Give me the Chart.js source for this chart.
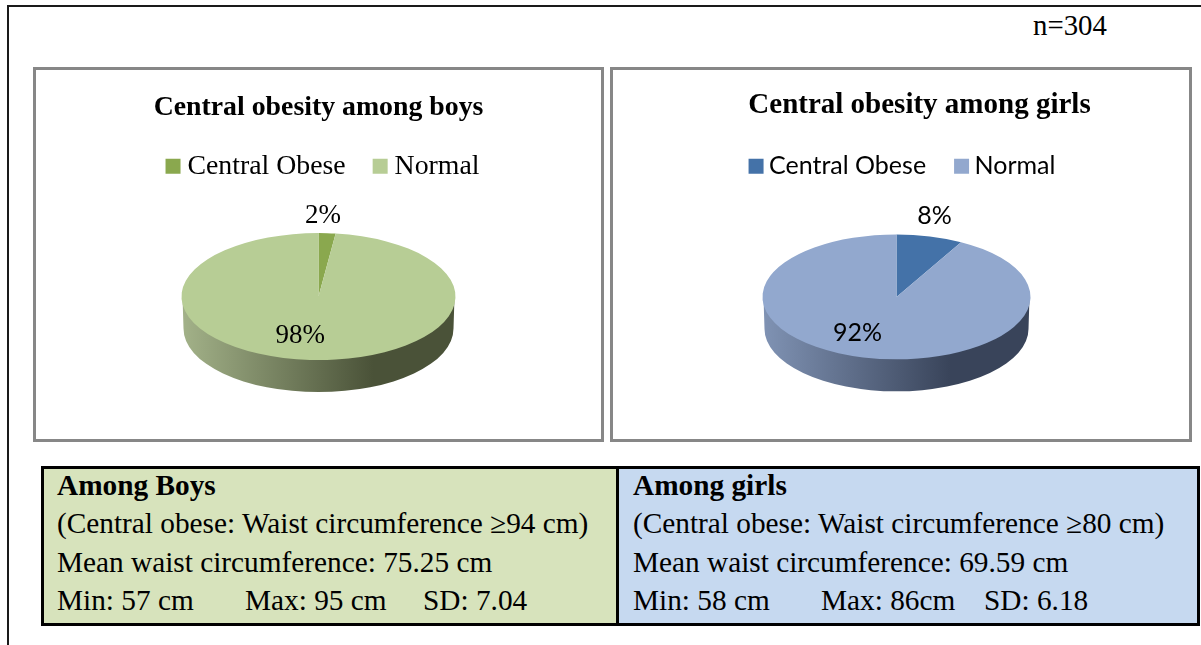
<!DOCTYPE html>
<html>
<head>
<meta charset="utf-8">
<title>Central obesity</title>
<script src="https://cdn.jsdelivr.net/npm/chart.js@4"></script>
<style>
  html, body { margin: 0; padding: 0; background: #fff; overflow: hidden; }
  body { width: 1201px; height: 645px; position: relative; font-family: "Liberation Serif", serif; color: #000; }
  .frameTop { position: absolute; left: 7px; top: 5px; width: 1194px; height: 2px; background: #1a1a1a; }
  .frameLeft { position: absolute; left: 7px; top: 5px; width: 2px; height: 640px; background: #1a1a1a; }
  .nText { position: absolute; left: 1033px; top: 9px; font-size: 28.8px; line-height: 32px; }
  .box { position: absolute; top: 67px; height: 369px; border: 3px solid #878787; background: #fff; }
  .box canvas { position: absolute; left: -3px; top: -3px; }
  #boxBoys { left: 33px; width: 565px; }
  #boxGirls { left: 610px; width: 576px; }
  .cell { position: absolute; top: 466px; height: 154px; border: 3px solid #000; font-size: 29.3px; line-height: 38.4px; white-space: nowrap; }
  #cellBoys { left: 41px; width: 574px; background: #d7e3bc; border-right: 0; }
  #cellGirls { left: 616px; width: 578px; background: #c6d9f0; }
  .line { position: absolute; }
  .head { font-weight: bold; }
</style>
</head>
<body>
<div class="frameTop"></div>
<div class="frameLeft"></div>
<div class="nText">n=304</div>

<div class="box" id="boxBoys"><canvas id="pieBoys" width="571" height="375"></canvas></div>
<div class="box" id="boxGirls"><canvas id="pieGirls" width="582" height="375"></canvas></div>

<div class="cell" id="cellBoys">
  <div class="line head" style="left:13px;top:-3px">Among Boys</div>
  <div class="line" style="left:13px;top:35px">(Central obese: Waist circumference ≥94 cm)</div>
  <div class="line" style="left:13px;top:74px">Mean waist circumference: 75.25 cm</div>
  <div class="line" style="left:13px;top:112px">Min: 57 cm</div>
  <div class="line" style="left:201px;top:112px">Max: 95 cm</div>
  <div class="line" style="left:379px;top:112px">SD: 7.04</div>
</div>
<div class="cell" id="cellGirls">
  <div class="line head" style="left:14px;top:-3px">Among girls</div>
  <div class="line" style="left:14px;top:35px">(Central obese: Waist circumference ≥80 cm)</div>
  <div class="line" style="left:14px;top:74px">Mean waist circumference: 69.59 cm</div>
  <div class="line" style="left:14px;top:112px">Min: 58 cm</div>
  <div class="line" style="left:202px;top:112px">Max: 86cm</div>
  <div class="line" style="left:365px;top:112px">SD: 6.18</div>
</div>

<script>
const categories = ["Central Obese", "Normal"];
const boysValues = [2, 98];
const girlsValues = [8, 92];
const boysColors = ["#8aa84e", "#b7cd95"];
const girlsColors = ["#4472a8", "#92a8ce"];

// pie lying flat: squash the arcs drawn by the library and put a rim under them
const flatPie = {
  id: "flatPie",
  afterLayout(chart, args, opts) {
    chart.titleBlock.left += opts.titleDx;
    chart.titleBlock.right += opts.titleDx;
    chart.titleBlock.top += opts.titleDy;
    chart.titleBlock.bottom += opts.titleDy;
    chart.legend.left += opts.legendDx;
    chart.legend.right += opts.legendDx;
    chart.legend.top += opts.legendDy;
    chart.legend.bottom += opts.legendDy;
  },
  beforeDatasetsDraw(chart, args, opts) {
    const arc = chart.getDatasetMeta(0).data[0];
    const ctx = chart.ctx;
    const cx = arc.x, cy = arc.y, rx = arc.outerRadius, ry = rx * opts.squash;

    const grad = ctx.createLinearGradient(cx - rx, 0, cx + rx, 0);
    grad.addColorStop(0, opts.rimLight);
    grad.addColorStop(0.7, opts.rimDark);
    grad.addColorStop(1, opts.rimDark);
    ctx.save();
    ctx.beginPath();
    ctx.moveTo(cx + rx - 1, cy);
    ctx.lineTo(cx + rx - 2, cy + opts.depth);
    ctx.ellipse(cx, cy + opts.depth, rx - 2, ry, 0, 0, Math.PI);
    ctx.lineTo(cx - rx + 1, cy);
    ctx.closePath();
    ctx.fillStyle = grad;
    ctx.fill();
    ctx.restore();

    ctx.save();
    ctx.translate(0, cy);
    ctx.scale(1, opts.squash);
    ctx.translate(0, -cy);
  },
  afterDatasetsDraw(chart, args, opts) {
    const ctx = chart.ctx;
    ctx.restore();

    const values = chart.data.datasets[0].data;
    chart.getDatasetMeta(0).data.forEach((arc, i) => {
      const mid = (arc.startAngle + arc.endAngle) / 2;
      const x = arc.x + Math.cos(mid) * opts.labelRadius[i] + opts.labelDx[i];
      const y = arc.y + Math.sin(mid) * opts.labelRadius[i] * opts.squash + opts.labelDy[i];
      ctx.save();
      ctx.font = opts.labelFont;
      ctx.fillStyle = "#000";
      ctx.textAlign = "center";
      ctx.textBaseline = "middle";
      ctx.fillText(values[i] + "%", x, y);
      ctx.restore();
    });
  }
};

function makePie(id, values, colors, radius, bottomPad, rightPad, titleText, titleSize, fontFamily, legendSize, legendGap, pieOpts) {
  return new Chart(document.getElementById(id), {
    type: "pie",
    data: {
      labels: categories,
      datasets: [{ data: values, backgroundColor: colors, borderWidth: 0, radius: radius, clip: false }]
    },
    options: {
      responsive: false,
      animation: false,
      layout: { padding: { bottom: bottomPad, right: rightPad } },
      plugins: {
        tooltip: { enabled: false },
        title: {
          display: true,
          text: titleText,
          color: "#000",
          font: { family: "Liberation Serif", size: titleSize, weight: "bold", lineHeight: 1.2 },
          padding: { top: 23, bottom: 0 }
        },
        legend: {
          position: "top",
          labels: {
            color: "#000",
            font: { family: fontFamily, size: legendSize },
            boxWidth: 1,
            boxHeight: 1,
            padding: legendGap,
            generateLabels(chart) {
              return chart.data.labels.map((text, i) => ({
                text: text,
                fillStyle: colors[i],
                strokeStyle: colors[i],
                lineWidth: 14,
                index: i
              }));
            }
          }
        },
        flatPie: pieOpts
      }
    },
    plugins: [flatPie]
  });
}

document.addEventListener("DOMContentLoaded", () => {
  makePie("pieBoys", boysValues, boysColors, 137, 44, 0, "Central obesity among boys", 27.8, "Liberation Serif", 27.8, 34, {
    squash: 0.4635, depth: 32,
    rimLight: "#a3b289", rimDark: "#4a5238",
    titleDx: 0, titleDy: 1, legendDx: 7.5, legendDy: -5,
    labelFont: "27px 'Liberation Serif'",
    labelRadius: [105, 84],
    labelDx: [-2, -13], labelDy: [-32, 0]
  });
  makePie("pieGirls", girlsValues, girlsColors, 134, 43, 9, "Central obesity among girls", 29, "Lato", 25, 35, {
    squash: 0.466, depth: 32,
    rimLight: "#8093b4", rimDark: "#39445a",
    titleDx: 23, titleDy: -2, legendDx: 9, legendDy: -6,
    labelFont: "25px Lato",
    labelRadius: [105, 84],
    labelDx: [12, -18], labelDy: [-34, -2]
  });
});
</script>
</body>
</html>
